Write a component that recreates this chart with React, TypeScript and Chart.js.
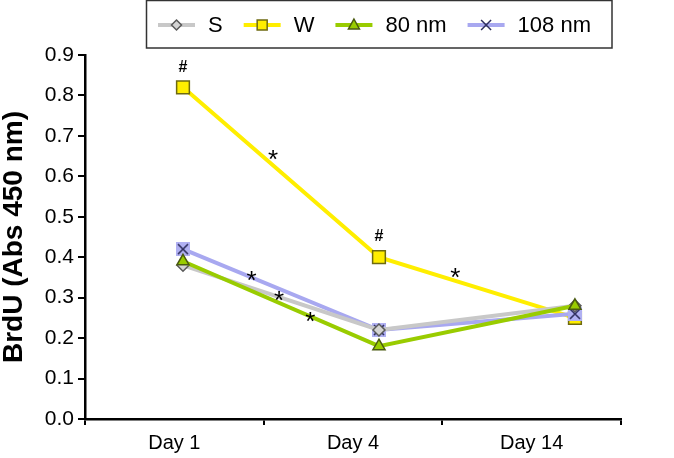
import React, { useEffect, useRef } from "react";
import { Chart, registerables } from "chart.js";

Chart.register(...registerables);

const categories = ["Day 1", "Day 4", "Day 14"];
const seriesNames = ["S", "W", "80 nm", "108 nm"];
const sValues = [0.38, 0.22, 0.28];
const wValues = [0.82, 0.40, 0.25];
const nm80Values = [0.39, 0.18, 0.28];
const nm108Values = [0.42, 0.22, 0.26];
const yTickValues = [0, 0.1, 0.2, 0.3, 0.4, 0.5, 0.6, 0.7, 0.8, 0.9];
// significance marks: text, x (category index, fractional), y (value)
const markTexts = ["#", "#", "*", "*", "*", "*", "*"];
const markX = [0, 1, 0.46, 1.39, 0.35, 0.49, 0.65];
const markY = [0.87, 0.45, 0.653, 0.361, 0.354, 0.304, 0.252];

const FONT = "'Liberation Sans', Arial, Helvetica, sans-serif";

function makeXMarker(): HTMLCanvasElement {
  const c = document.createElement("canvas");
  c.width = 14;
  c.height = 14;
  const g = c.getContext("2d")!;
  g.fillStyle = "#b0b0f2";
  g.fillRect(0, 0, 14, 14);
  g.strokeStyle = "#2e2e5e";
  g.lineWidth = 1.6;
  g.beginPath();
  g.moveTo(2, 2);
  g.lineTo(12, 12);
  g.moveTo(12, 2);
  g.lineTo(2, 12);
  g.stroke();
  return c;
}

export default function App() {
  const ref = useRef<HTMLCanvasElement | null>(null);

  useEffect(() => {
    if (!ref.current) return;
    const xMarker = makeXMarker();
    const styles = [
      { line: "#c8c8c8", fill: "#d4d4d4", border: "#5a5a5a", point: "rectRot", r: 6 },
      { line: "#ffee00", fill: "#ffee00", border: "#6e6a10", point: "rect", r: 9 },
      { line: "#99cc00", fill: "#99cc00", border: "#4a5a10", point: "triangle", r: 7 },
      { line: "#a8a8f0", fill: "#b0b0f2", border: "#2e2e5e", point: xMarker as any, r: 7 },
    ];
    const values = [sValues, wValues, nm80Values, nm108Values];

    const overlay = {
      id: "overlay",
      afterDraw(chart: any) {
        const ctx = chart.ctx;
        const xs = chart.scales.xp;
        const ys = chart.scales.y;
        ctx.save();
        // marks
        ctx.fillStyle = "#000";
        ctx.textAlign = "center";
        ctx.textBaseline = "middle";
        markTexts.forEach((t, i) => {
          ctx.font = t === "#" ? `bold 16px ${FONT}` : `26px ${FONT}`;
          const px = xs.getPixelForValue(markX[i]);
          const py = ys.getPixelForValue(markY[i]) + (t === "*" ? 6 : 0);
          ctx.fillText(t, px, py);
        });
        // legend
        ctx.strokeStyle = "#333";
        ctx.lineWidth = 1.5;
        ctx.strokeRect(146.5, 0.5, 465.5, 47.5);
        ctx.font = `22px ${FONT}`;
        ctx.textAlign = "left";
        let x = 158;
        const cy = 25;
        seriesNames.forEach((name, i) => {
          const st = styles[i];
          ctx.strokeStyle = st.line;
          ctx.lineWidth = 4;
          ctx.beginPath();
          ctx.moveTo(x, cy);
          ctx.lineTo(x + 37, cy);
          ctx.stroke();
          const mx = x + 18.5;
          ctx.lineWidth = 1.5;
          ctx.fillStyle = st.fill;
          ctx.strokeStyle = st.border;
          if (i === 0) {
            ctx.beginPath();
            ctx.moveTo(mx, cy - 5);
            ctx.lineTo(mx + 5, cy);
            ctx.lineTo(mx, cy + 5);
            ctx.lineTo(mx - 5, cy);
            ctx.closePath();
            ctx.fill();
            ctx.stroke();
          } else if (i === 1) {
            ctx.fillRect(mx - 5, cy - 5, 10, 10);
            ctx.strokeRect(mx - 5, cy - 5, 10, 10);
          } else if (i === 2) {
            ctx.beginPath();
            ctx.moveTo(mx, cy - 6);
            ctx.lineTo(mx + 5.5, cy + 4);
            ctx.lineTo(mx - 5.5, cy + 4);
            ctx.closePath();
            ctx.fill();
            ctx.stroke();
          } else {
            ctx.beginPath();
            ctx.moveTo(mx - 5, cy - 5);
            ctx.lineTo(mx + 5, cy + 5);
            ctx.moveTo(mx + 5, cy - 5);
            ctx.lineTo(mx - 5, cy + 5);
            ctx.stroke();
          }
          x += 50;
          ctx.fillStyle = "#000";
          ctx.fillText(name, x, cy + 1);
          x += ctx.measureText(name).width + 21;
        });
        ctx.restore();
      },
    };

    const chart = new Chart(ref.current, {
      type: "line",
      data: {
        labels: categories,
        datasets: seriesNames.map((name, i) => ({
          label: name,
          data: values[i].map((v, j) => ({ x: j, y: v })),
          xAxisID: "xp",
          borderColor: styles[i].line,
          backgroundColor: styles[i].fill,
          pointBackgroundColor: styles[i].fill,
          pointBorderColor: styles[i].border,
          pointBorderWidth: 1.5,
          pointStyle: styles[i].point,
          pointRadius: styles[i].r,
          borderWidth: 4,
          tension: 0,
          order: [2, 4, 1, 3][i],
        })),
      },
      options: {
        animation: false,
        responsive: false,
        maintainAspectRatio: false,
        layout: { padding: { left: 0, top: 55, right: 53, bottom: 0 } },
        plugins: { legend: { display: false }, tooltip: { enabled: false } },
        scales: {
          x: {
            type: "category",
            offset: true,
            grid: {
              offset: true,
              drawOnChartArea: false,
              drawTicks: true,
              tickLength: 6,
              color: "#000",
              lineWidth: 2,
            },
            border: { display: true, color: "#000", width: 2.5 },
            ticks: { color: "#000", font: { family: FONT, size: 20 }, padding: 6 },
            afterFit: (s: any) => {
              s.height = 39;
            },
          },
          xp: {
            type: "linear",
            display: false,
            min: -0.5,
            max: 2.235,
          },
          y: {
            min: 0,
            max: 0.9,
            afterBuildTicks: (s: any) => {
              s.ticks = yTickValues.map((v) => ({ value: v }));
            },
            grid: {
              drawOnChartArea: false,
              drawTicks: true,
              tickLength: 7,
              color: "#000",
              lineWidth: 2,
            },
            border: { display: true, color: "#000", width: 2.5 },
            ticks: {
              color: "#000",
              font: { family: FONT, size: 21 },
              padding: 4,
              callback: (v: any) => Number(v).toFixed(1),
            },
            title: {
              display: true,
              text: "BrdU (Abs 450 nm)",
              color: "#000",
              font: { family: FONT, size: 28, weight: "bold", lineHeight: 1 },
              padding: { top: 0, bottom: 0 },
            },
            afterFit: (s: any) => {
              s.width = 85;
            },
          },
        },
      },
      plugins: [overlay],
    });
    return () => chart.destroy();
  }, []);

  return (
    <div style={{ position: "fixed", left: 0, top: 0, width: 674, height: 458, background: "#fff" }}>
      <canvas ref={ref} width={674} height={458} style={{ width: 674, height: 458 }} />
    </div>
  );
}
